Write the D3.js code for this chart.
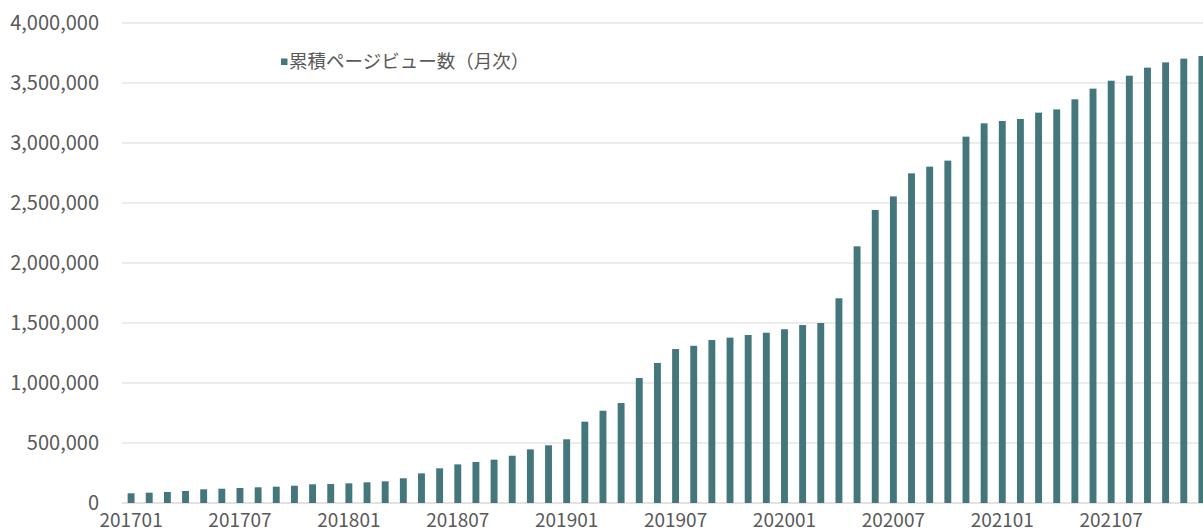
<!DOCTYPE html>
<html lang="ja">
<head>
<meta charset="utf-8">
<script src="https://cdn.jsdelivr.net/npm/d3@7"></script>
<style>
  html, body { margin: 0; padding: 0; background: #fff; overflow: hidden; }
  svg { display: block; }
  text { font-family: "Noto Sans CJK JP", "Noto Sans", sans-serif; fill: #595959; }
</style>
</head>
<body>
<svg id="chart" width="1203" height="532"></svg>
<script>
// Monthly cumulative page views, 2017-01 .. 2021-12
const months = [
  "201701","201702","201703","201704","201705","201706","201707","201708","201709","201710","201711","201712",
  "201801","201802","201803","201804","201805","201806","201807","201808","201809","201810","201811","201812",
  "201901","201902","201903","201904","201905","201906","201907","201908","201909","201910","201911","201912",
  "202001","202002","202003","202004","202005","202006","202007","202008","202009","202010","202011","202012",
  "202101","202102","202103","202104","202105","202106","202107","202108","202109","202110","202111","202112"
];
const cumulativeViews = [
  81000, 86000, 92000, 100000, 114000, 119000, 125000, 131000, 136000, 144000, 156000, 158000,
  164000, 172000, 181000, 206000, 247000, 289000, 322000, 342000, 361000, 394000, 447000, 481000,
  531000, 678000, 769000, 833000, 1042000, 1167000, 1283000, 1310000, 1358000, 1378000, 1400000, 1419000,
  1448000, 1483000, 1500000, 1706000, 2139000, 2442000, 2555000, 2747000, 2803000, 2853000, 3053000, 3164000,
  3183000, 3200000, 3253000, 3280000, 3364000, 3453000, 3519000, 3561000, 3628000, 3672000, 3703000, 3725000
];
const yTicks = [0, 500000, 1000000, 1500000, 2000000, 2500000, 3000000, 3500000, 4000000];
const xTickLabels = ["201701","201707","201801","201807","201901","201907","202001","202007","202101","202107"];
const seriesName = "累積ページビュー数（月次）";

const svg = d3.select("#chart");
const W = 1203;
const plotLeft = 122, plotRight = 1211, plotTop = 23, plotBottom = 503;
const barColor = "#44777b";

const x = d3.scaleBand()
  .domain(months)
  .range([plotLeft, plotRight])
  .paddingInner(0.62)
  .paddingOuter(0.31);

const y = d3.scaleLinear()
  .domain([0, 4000000])
  .range([plotBottom, plotTop]);

// horizontal gridlines
svg.append("g")
  .selectAll("line")
  .data(yTicks)
  .join("line")
  .attr("x1", plotLeft)
  .attr("x2", W)
  .attr("y1", d => y(d))
  .attr("y2", d => y(d))
  .attr("stroke", d => d === 0 ? "#d9d9d9" : "#e6e6e6")
  .attr("stroke-width", 1.5);

// y axis labels
const yAxis = d3.axisLeft(y)
  .tickValues(yTicks)
  .tickFormat(d3.format(","))
  .tickSize(0)
  .tickPadding(0);
const gy = svg.append("g")
  .attr("transform", `translate(99,0)`)
  .call(yAxis);
gy.select(".domain").remove();
gy.selectAll("text")
  .attr("font-size", 20)
  .style("font-family", '"Noto Sans CJK JP", sans-serif')
  .attr("fill", "#595959");

// bars
svg.append("g")
  .selectAll("rect")
  .data(months.map((m, i) => ({ m, v: cumulativeViews[i] })))
  .join("rect")
  .attr("x", d => x(d.m))
  .attr("width", x.bandwidth())
  .attr("y", d => y(d.v))
  .attr("height", d => y(0) - y(d.v))
  .attr("fill", barColor);

// x axis labels (every six months)
const xAxis = d3.axisBottom(x)
  .tickValues(xTickLabels)
  .tickSize(0)
  .tickPadding(0);
const gx = svg.append("g")
  .attr("transform", `translate(0,${plotBottom + 10})`)
  .call(xAxis);
gx.select(".domain").remove();
gx.selectAll("text")
  .attr("font-size", 19)
  .style("font-family", '"Noto Sans CJK JP", sans-serif')
  .attr("fill", "#595959");

// legend
const legend = svg.append("g").attr("transform", "translate(281,62)");
legend.append("rect")
  .attr("x", 0).attr("y", -3.5)
  .attr("width", 6.5).attr("height", 6.5)
  .attr("fill", barColor);
legend.append("text")
  .attr("x", 8)
  .attr("y", 0)
  .attr("dy", "0.35em")
  .attr("font-size", 18.5)
  .text(seriesName);
</script>
</body>
</html>
